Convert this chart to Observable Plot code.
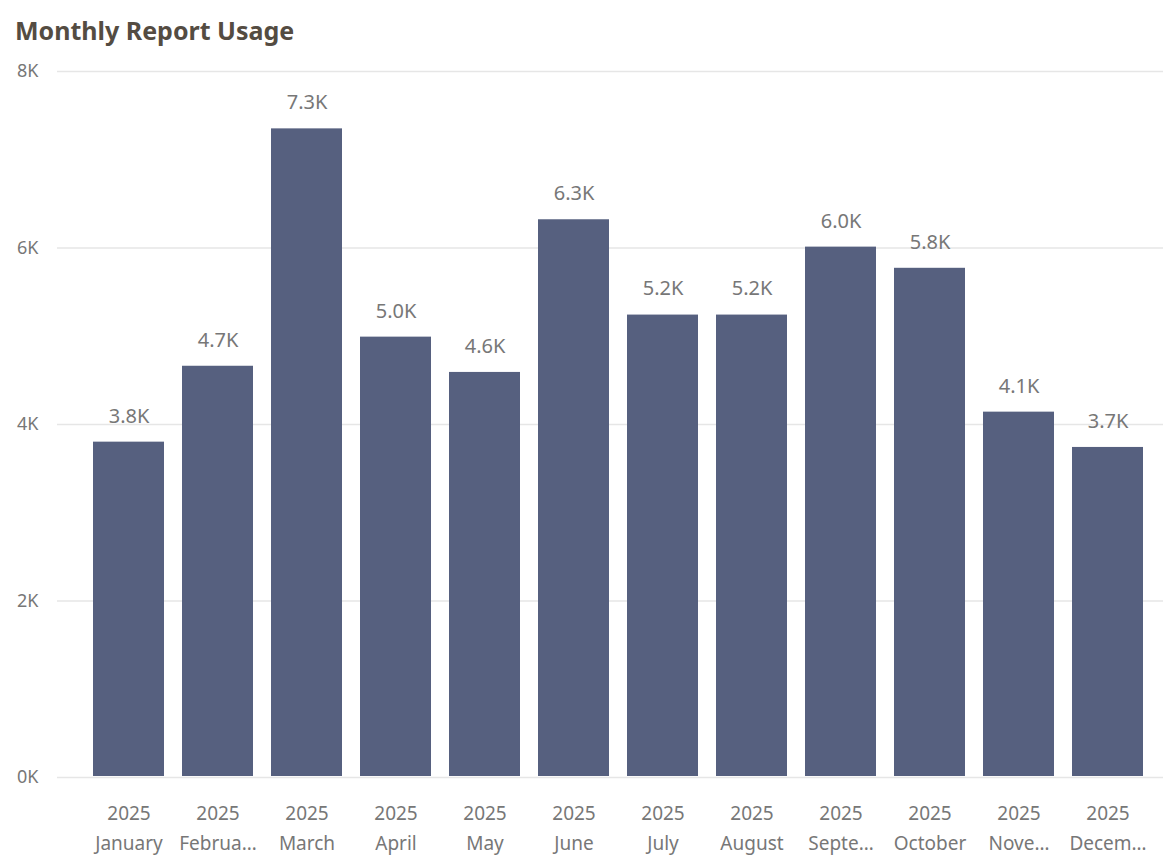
<!DOCTYPE html>
<html>
<head>
<meta charset="utf-8">
<script src="https://cdn.jsdelivr.net/npm/d3@7"></script>
<script src="https://cdn.jsdelivr.net/npm/@observablehq/plot@0.6"></script>
<style>
  html, body { margin: 0; padding: 0; background: #fff; }
  body { width: 1164px; height: 868px; overflow: hidden; font-family: "Noto Sans", "Open Sans", sans-serif; }
  #title { position: absolute; left: 15px; top: 13px; font-size: 25px; font-weight: 700; color: #544c42; letter-spacing: 0px; }
  #chart { position: absolute; left: 0; top: 50px; }
</style>
</head>
<body>
<div id="title">Monthly Report Usage</div>
<div id="chart"></div>
<script>
const years = ["2025","2025","2025","2025","2025","2025","2025","2025","2025","2025","2025","2025"];
const months = ["January","February","March","April","May","June","July","August","September","October","November","December"];
const monthLabels = ["January","Februa…","March","April","May","June","July","August","Septe…","October","Nove…","Decem…"];
const usage = [3800, 4660, 7350, 4990, 4590, 6320, 5240, 5240, 6010, 5770, 4140, 3740];
const yTicks = [0, 2000, 4000, 6000, 8000];

const data = months.map((m, i) => ({month: m, year: years[i], label: monthLabels[i], value: usage[i]}));
const labelOf = new Map(data.map(d => [d.month, d.year + "\n" + d.label]));

const chart = Plot.plot({
  width: 1164,
  height: 818,
  marginLeft: 57,
  marginRight: 1,
  marginTop: 21,
  marginBottom: 91,
  style: {fontFamily: "'Noto Sans', 'Open Sans', sans-serif", background: "#fff"},
  x: {domain: months, padding: 0.2, insetLeft: 17, label: null},
  y: {domain: [0, 8000], label: null},
  marks: [
    Plot.gridY(yTicks, {stroke: "#e6e6e6", strokeOpacity: 1, strokeWidth: 1.5}),
    Plot.axisY(yTicks, {tickSize: 0, tickPadding: 19, fontSize: 18, fill: "#777", tickFormat: d => (d / 1000) + "K", label: null}),
    Plot.barY(data, {x: "month", y: "value", fill: "#56607f", insetBottom: 1}),
    Plot.text(data, {x: "month", y: "value", text: d => (d.value / 1000).toFixed(1) + "K", dy: -26, fontSize: 20, fill: "#777"}),
    Plot.axisX({tickSize: 0, tickPadding: 21, fontSize: 19, fill: "#777", lineHeight: 1.58, tickFormat: m => labelOf.get(m), label: null})
  ]
});
document.getElementById("chart").appendChild(chart);
</script>
</body>
</html>
